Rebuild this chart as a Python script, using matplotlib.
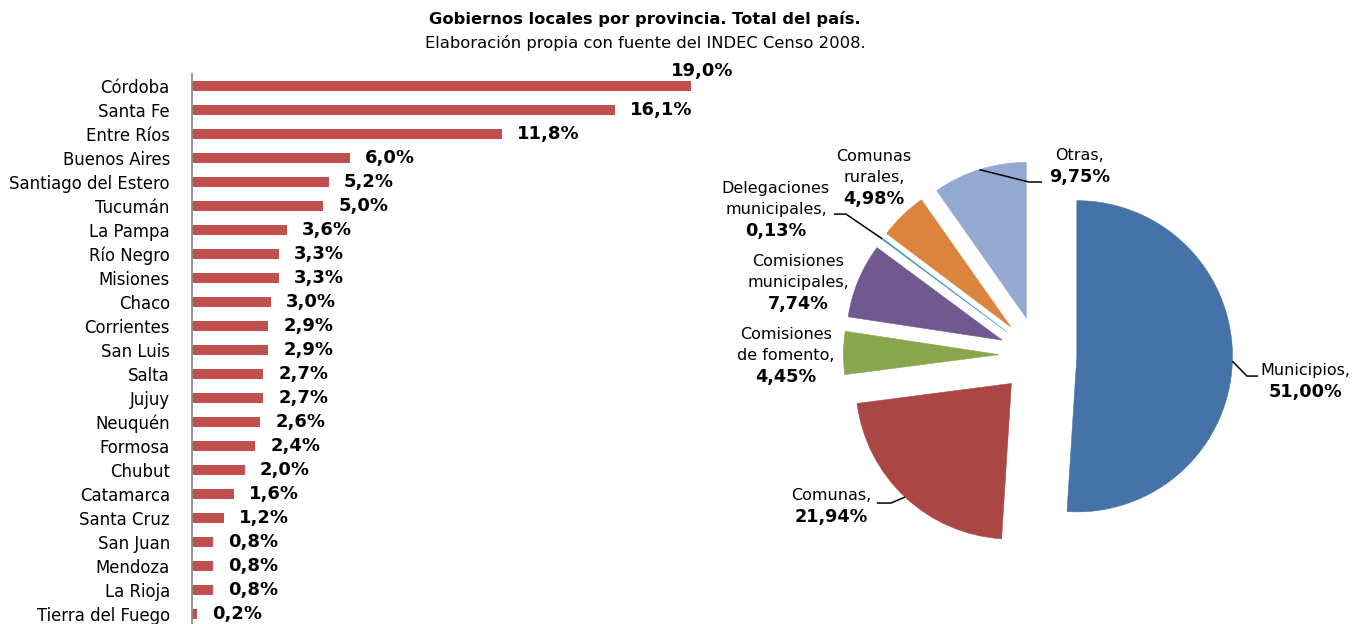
import numpy as np
import matplotlib
matplotlib.use("Agg")
import matplotlib.pyplot as plt

# Datos: gobiernos locales por provincia (%)
provincias = ["Córdoba", "Santa Fe", "Entre Ríos", "Buenos Aires", "Santiago del Estero",
              "Tucumán", "La Pampa", "Río Negro", "Misiones", "Chaco", "Corrientes",
              "San Luis", "Salta", "Jujuy", "Neuquén", "Formosa", "Chubut", "Catamarca",
              "Santa Cruz", "San Juan", "Mendoza", "La Rioja", "Tierra del Fuego"]
porcentajes = [19.0, 16.1, 11.8, 6.0, 5.2, 5.0, 3.6, 3.3, 3.3, 3.0, 2.9, 2.9, 2.7,
               2.7, 2.6, 2.4, 2.0, 1.6, 1.2, 0.8, 0.8, 0.8, 0.2]

# Datos: tipos de gobierno local (%)
tipos = ["Municipios", "Comunas", "Comisiones\nde fomento", "Comisiones\nmunicipales",
         "Delegaciones\nmunicipales", "Comunas\nrurales", "Otras"]
tipos_pct = [51.00, 21.94, 4.45, 7.74, 0.13, 4.98, 9.75]
colores = ["#4572A7", "#AA4643", "#89A54E", "#71588F", "#4198AF", "#DB843D", "#93A9CF"]

fig = plt.figure(figsize=(13.61, 6.24), dpi=100)

fig.text(0.474, 0.970, "Gobiernos locales por provincia. Total del país.",
         ha="center", va="center", fontsize=11.7, fontweight="bold")
fig.text(0.474, 0.931, "Elaboración propia con fuente del INDEC Censo 2008.",
         ha="center", va="center", fontsize=11.8)

# --- barras ---
ax = fig.add_axes([0.1411, 0.0, 0.405, 0.8814])
y = np.arange(len(provincias))
ax.barh(y, porcentajes, height=0.4, color="#C0504D")
ax.set_ylim(22.42, -0.5)
ax.set_xlim(0, 21)
ax.set_yticks(y)
ax.set_yticklabels(provincias, fontsize=11.9)
ax.tick_params(axis="y", length=0, pad=16)
ax.set_xticks([])
for s in ["top", "right", "bottom"]:
    ax.spines[s].set_visible(False)
ax.spines["left"].set_color("#8c8c8c")
ax.spines["left"].set_linewidth(1.3)

for i, v in enumerate(porcentajes):
    txt = f"{v:.1f}%".replace(".", ",")
    if i == 0:
        ax.annotate(txt, (v, i), xytext=(8, 11), textcoords="offset points",
                    ha="center", va="center", fontsize=13, fontweight="bold")
    else:
        ax.annotate(txt, (v, i), xytext=(11, 0), textcoords="offset points",
                    ha="left", va="center", fontsize=13, fontweight="bold")

# --- torta ---
L = 1.6
pax = fig.add_axes([0.5797, 0.032, 0.3659, 0.798])
expl = 0.25
wedges, _ = pax.pie(tipos_pct, colors=colores, startangle=90, counterclock=False,
                    explode=[expl] * len(tipos_pct), radius=1.0,
                    wedgeprops=dict(linewidth=0.4))
for w in wedges:
    w.set_edgecolor(w.get_facecolor())
pax.set_xlim(-L, L)
pax.set_ylim(-L, L)
pax.set_aspect("equal")

# posiciones de etiquetas (centro, límite entre nombre y porcentaje)
pos_etiq = [(1.716, -0.167), (-1.330, -0.970), (-1.620, -0.071), (-1.542, 0.398),
            (-1.684, 0.868), (-1.054, 1.073), (0.270, 1.215)]
for nombre, pct, (tx, ty) in zip(tipos, tipos_pct, pos_etiq):
    pax.text(tx, ty + 0.02, nombre + ",", ha="center", va="bottom", fontsize=11.5,
             linespacing=1.5)
    pax.text(tx, ty - 0.012, f"{pct:.2f}%".replace(".", ","), ha="center", va="top",
             fontsize=12.7, fontweight="bold")

# líneas guía: (índice, extremo junto al texto, largo del tramo horizontal)
guias = [(0, (1.414, -0.135), -0.071), (1, (-1.035, -0.951), 0.09),
         (4, (-1.311, 0.906), 0.077), (6, (0.026, 1.112), -0.084)]
for k, (ex, ey), stub in guias:
    w = wedges[k]
    mid = np.deg2rad((w.theta1 + w.theta2) / 2)
    ax_ = (1 + expl) * np.cos(mid)
    ay_ = (1 + expl) * np.sin(mid)
    pax.plot([ax_, ex + stub, ex], [ay_, ey, ey], color="black", lw=1.1,
             solid_capstyle="butt")

fig.savefig("out.png", dpi=100)
